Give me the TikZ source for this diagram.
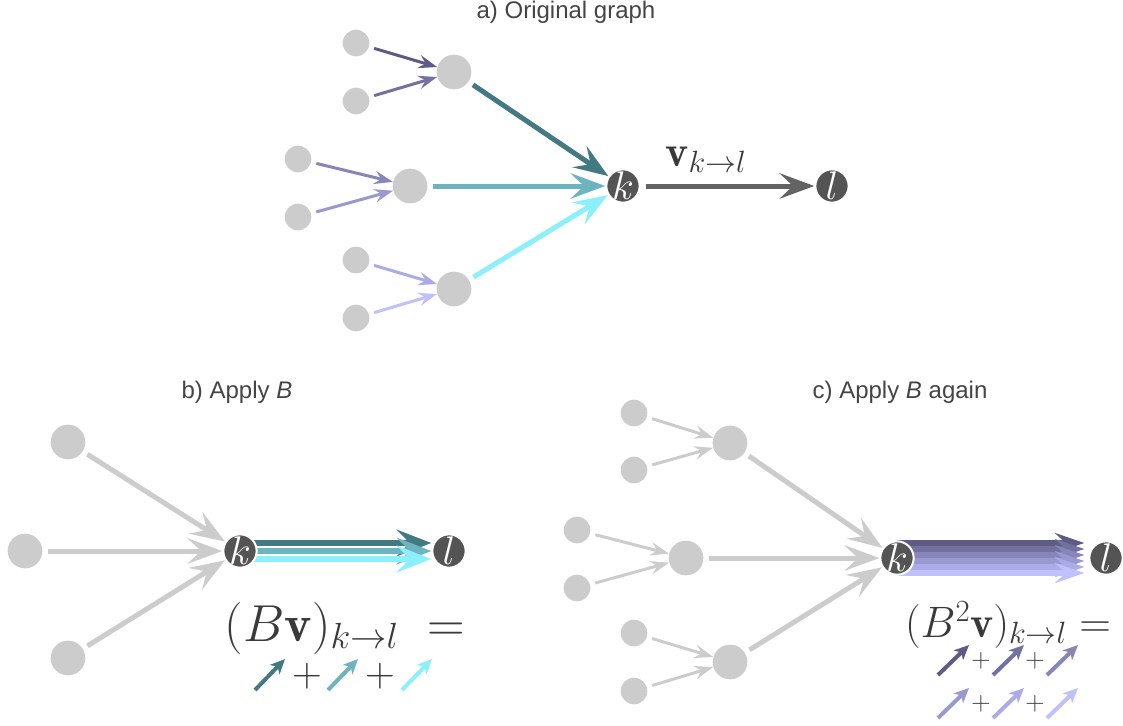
\RequirePackage{fix-cm}
\documentclass[tikz,border=0pt]{standalone}
\usepackage{fontspec}
\setsansfont{Liberation Sans}
\usetikzlibrary{arrows.meta, positioning, backgrounds}

\definecolor{nodegray}{HTML}{CCCCCC}
\definecolor{nodedark}{HTML}{545454}
\definecolor{titlegray}{HTML}{444444}
\definecolor{mathgray}{HTML}{3A3A3A}
\definecolor{kedge}{HTML}{636363}
\definecolor{tealA}{HTML}{437A82}
\definecolor{tealB}{HTML}{6CB5C0}
\definecolor{tealC}{HTML}{8CF0FC}
\definecolor{violA}{HTML}{5E5C85}
\definecolor{violB}{HTML}{73719F}
\definecolor{violC}{HTML}{8886B9}
\definecolor{violD}{HTML}{9999D0}
\definecolor{violE}{HTML}{ABABE8}
\definecolor{violF}{HTML}{C0C0FF}

\begin{document}
\begin{tikzpicture}[x=0.75pt, y=-0.75pt,
    leaf/.style={circle, fill=nodegray, inner sep=0pt, minimum size=20pt},
    hub/.style={circle, fill=nodegray, inner sep=0pt, minimum size=26pt},
    endpt/.style={circle, fill=nodedark, draw=white, line width=1.5pt, inner sep=-2pt, minimum size=25pt, text=white, font=\fontsize{30}{30}\selectfont},
    title/.style={font=\sffamily\fontsize{18}{21}\selectfont, text=titlegray},
    plus/.style={text=mathgray, inner sep=0pt},
    bigarr/.style={line width=3.75pt, -{Stealth[length=26pt, width=19pt, inset=10pt]}, shorten <=4pt},
    smallarr/.style={line width=2.25pt, -{Stealth[length=14pt, width=10pt, inset=5pt]}, shorten <=4pt},
    bandb/.style={line width=5pt, -{Stealth[length=26pt, width=20pt, inset=10pt]}},
    bandc/.style={line width=3.9pt, -{Stealth[length=22pt, width=15pt, inset=8pt]}},
    icon/.style={line width=3pt, -{Stealth[length=11pt, width=10pt, inset=3pt]}},
  ]
  \useasboundingbox (0,0) rectangle (1123,725);

  % a) original graph
  \node [title] (ta) at (566,12) {a) Original graph};
  \node [leaf] (a1) at (356,43) {};
  \node [leaf] (a2) at (356,101) {};
  \node [leaf] (a3) at (298,159) {};
  \node [leaf] (a4) at (298,217) {};
  \node [leaf] (a5) at (356,260) {};
  \node [leaf] (a6) at (356,318) {};
  \node [hub] (am1) at (454,72) {};
  \node [hub] (am2) at (410,186) {};
  \node [hub] (am3) at (454,289) {};
  \node [endpt] (ak) at (623,186) {$k$};
  \node [endpt] (al) at (832,186) {$l$};

  \draw [smallarr, violA] (a1) -- (am1);
  \draw [smallarr, violB] (a2) -- (am1);
  \draw [smallarr, violC] (a3) -- (am2);
  \draw [smallarr, violD] (a4) -- (am2);
  \draw [smallarr, violE] (a5) -- (am3);
  \draw [smallarr, violF] (a6) -- (am3);
  \draw [bigarr, tealA] (am1) -- (ak);
  \draw [bigarr, tealB] (am2) -- (ak);
  \draw [bigarr, tealC] (am3) -- (ak);
  \draw [bigarr, kedge] (ak) -- (al);
  \node [anchor=base, text=mathgray, font=\fontsize{33}{36}\selectfont] (vlab) at (706,166) {$\mathbf{v}_{k\to l}$};

  % b) apply B
  \node [title] (tb) at (237,392) {b) Apply \textit{B}};
  \node [hub] (bn1) at (68,442) {};
  \node [hub] (bn2) at (25,551) {};
  \node [hub] (bn3) at (68,658) {};
  \node [endpt] (bk) at (240,551) {$k$};
  \node [endpt] (bl) at (449,551) {$l$};
  \draw [bigarr, nodegray] (bn1) -- (bk);
  \draw [bigarr, nodegray] (bn2) -- (bk);
  \draw [bigarr, nodegray] (bn3) -- (bk);
  \begin{pgfonlayer}{background}
    \foreach \dy/\col in {6/tealA, 0/tealB, -6/tealC}
      \draw [bandb, \col] ([yshift=\dy pt]bk.center) -- ([yshift=\dy pt]bl.west);
  \end{pgfonlayer}
  \node [anchor=base, text=mathgray, font=\fontsize{39}{42}\selectfont] (bform) at (345,641) {$(B\mathbf{v})_{k\to l}\;=$};
  \foreach \i/\x/\col in {1/255/tealA, 2/328/tealB, 3/402/tealC} {
    \coordinate (bt\i) at (\x,690);
    \coordinate (bh\i) at (\x+30,659);
    \draw [icon, \col] (bt\i) -- (bh\i);
  }
  \node [plus, font=\fontsize{31}{31}\selectfont] (bp1) at (307,676) {$+$};
  \node [plus, font=\fontsize{31}{31}\selectfont] (bp2) at (380,676) {$+$};

  % c) apply B again
  \node [title] (tc) at (900,392) {c) Apply \textit{B} again};
  \node [leaf] (c1) at (634,413) {};
  \node [leaf] (c2) at (634,470) {};
  \node [leaf] (c3) at (577,530) {};
  \node [leaf] (c4) at (577,588) {};
  \node [leaf] (c5) at (634,633) {};
  \node [leaf] (c6) at (634,691) {};
  \node [hub] (cm1) at (730,443) {};
  \node [hub] (cm2) at (686,558) {};
  \node [hub] (cm3) at (730,662) {};
  \node [endpt] (ck) at (897,558) {$k$};
  \node [endpt] (cl) at (1106,558) {$l$};
  \draw [smallarr, nodegray] (c1) -- (cm1);
  \draw [smallarr, nodegray] (c2) -- (cm1);
  \draw [smallarr, nodegray] (c3) -- (cm2);
  \draw [smallarr, nodegray] (c4) -- (cm2);
  \draw [smallarr, nodegray] (c5) -- (cm3);
  \draw [smallarr, nodegray] (c6) -- (cm3);
  \draw [bigarr, nodegray] (cm1) -- (ck);
  \draw [bigarr, nodegray] (cm2) -- (ck);
  \draw [bigarr, nodegray] (cm3) -- (ck);
  \begin{pgfonlayer}{background}
    \foreach \dy/\col in {11.25/violA, 6.75/violB, 2.25/violC, -2.25/violD, -6.75/violE, -11.25/violF}
      \draw [bandc, \col] ([yshift=\dy pt]ck.center) -- ([xshift=-3pt, yshift=\dy pt]cl.west);
  \end{pgfonlayer}
  \node [anchor=base, text=mathgray, font=\fontsize{33}{36}\selectfont] (cform) at (1008,637) {$(B^2\mathbf{v})_{k\to l}=$};
  \foreach \i/\x/\y/\col in {1/938/675/violA, 2/993/675/violB, 3/1047/675/violC, 4/938/718/violD, 5/993/718/violE, 6/1047/718/violF} {
    \coordinate (ct\i) at (\x,\y);
    \coordinate (ch\i) at (\x+31,\y-30);
    \draw [icon, \col] (ct\i) -- (ch\i);
  }
  \node [plus, font=\fontsize{20}{20}\selectfont] (cp1) at (981,661) {$+$};
  \node [plus, font=\fontsize{20}{20}\selectfont] (cp2) at (1035,661) {$+$};
  \node [plus, font=\fontsize{20}{20}\selectfont] (cp3) at (981,704) {$+$};
  \node [plus, font=\fontsize{20}{20}\selectfont] (cp4) at (1035,704) {$+$};
\end{tikzpicture}
\end{document}
